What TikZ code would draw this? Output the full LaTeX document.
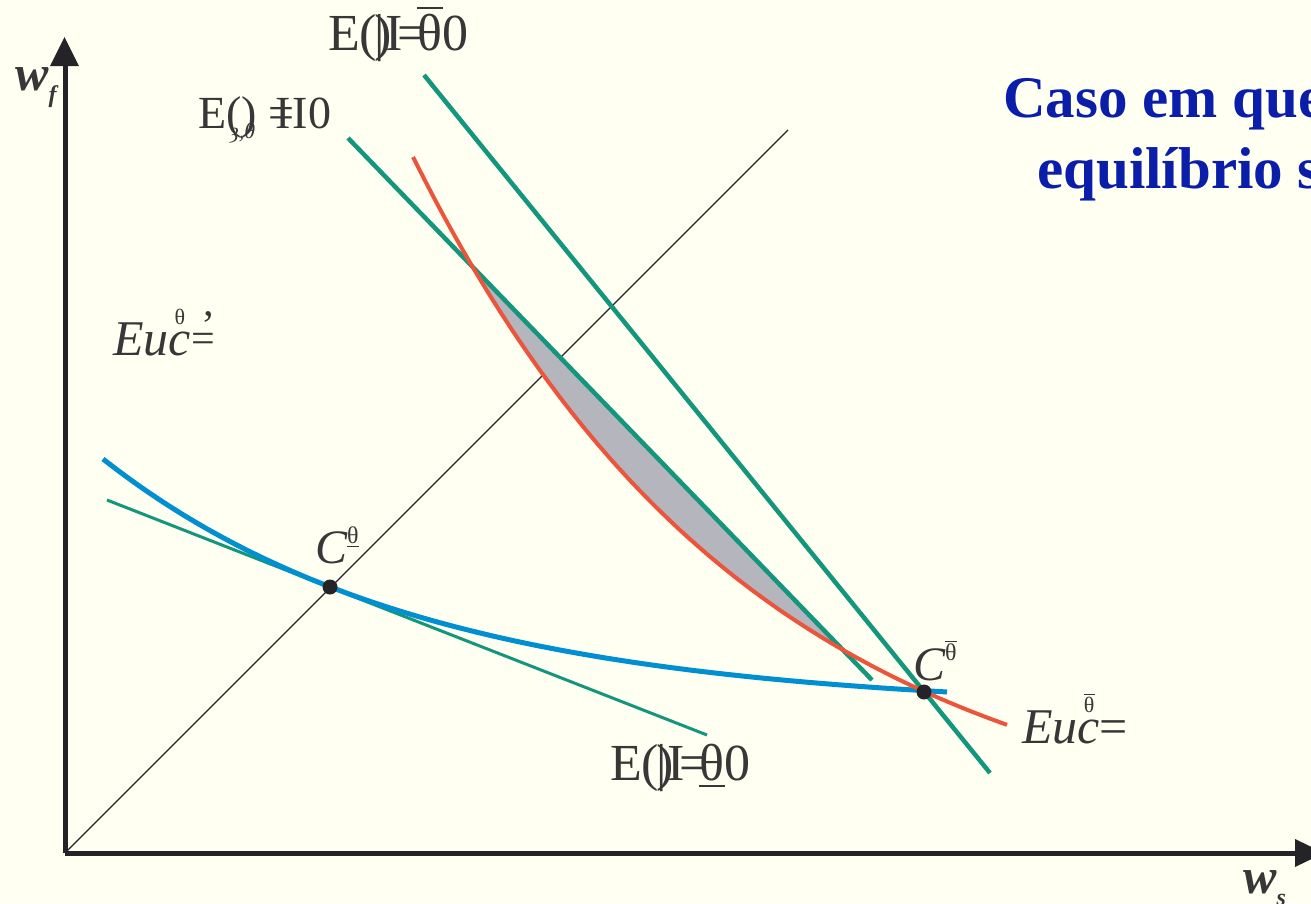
\documentclass[tikz,border=0pt]{standalone}
\usepackage{fontspec}
\setmainfont{Liberation Serif}
\definecolor{bgc}{RGB}{255,255,242}
\definecolor{tealc}{RGB}{20,150,125}
\definecolor{bluec}{RGB}{0,144,210}
\definecolor{redc}{RGB}{236,84,60}
\definecolor{grayc}{RGB}{180,181,189}
\definecolor{txtc}{RGB}{55,55,55}
\definecolor{titlec}{RGB}{10,30,170}
\definecolor{axisc}{RGB}{35,35,40}
\newcommand\ovbar[1]{\rlap{\raisebox{0.78em}{\rule{0.5em}{0.05em}}}#1}
\newcommand\unbar[1]{\rlap{\raisebox{-0.14em}{\rule{0.5em}{0.05em}}}#1}
\begin{document}
\begin{tikzpicture}[x=1pt,y=-1pt,
  lbl/.style={anchor=base west,inner sep=0pt,text=txtc,font=\fontsize{46}{50}\selectfont},
  big/.style={anchor=base west,inner sep=0pt,text=txtc,font=\fontsize{52}{56}\selectfont},
  small/.style={anchor=base west,inner sep=0pt,text=txtc,font=\fontsize{24}{26}\selectfont},
  ttl/.style={anchor=base west,inner sep=0pt,text=titlec,font=\fontsize{59}{62}\selectfont\bfseries},
  axisline/.style={line width=5pt,axisc},
  thickgreen/.style={line width=4.5pt,tealc},
  thingreen/.style={line width=3pt,tealc},
  dot/.style={circle,fill=axisc,inner sep=0pt,minimum size=15pt}]
\fill[bgc] (0,0) rectangle (1311,903);
\useasboundingbox (0,0) rectangle (1311,903);
\begin{scope}
\clip (0,0) rectangle (1311,903);
% axes
\coordinate (O) at (65,853);
\coordinate (Ytop) at (65,60);
\coordinate (Xend) at (1300,853);
\coordinate (D) at (788,130);
\draw[axisline] (O) -- (Ytop);
\draw[axisline] (O) -- (Xend);
\fill[axisc] (50,66) -- (64.5,37) -- (79,66) -- cycle;
\fill[axisc] (1295,839) -- (1324,853) -- (1295,867) -- cycle;
\draw[line width=1.3pt,axisc] (O) -- (D);
% shaded region between red curve and green tangent line
\fill[grayc] plot[domain=470:842,samples=80] (\x,{157+690*(1-exp(-0.00292*(\x-413)))}) -- cycle;
% green lines
\coordinate (G1a) at (424,75);
\coordinate (G1b) at (990,773);
\coordinate (G2a) at (348,138);
\coordinate (G2b) at (872,680);
\coordinate (G3a) at (107,500);
\coordinate (G3b) at (707,735);
\draw[thickgreen] (G1a) -- (G1b);
\draw[thickgreen] (G2a) -- (G2b);
\draw[thingreen] (G3a) -- (G3b);
% blue curve
\draw[line width=5pt,bluec] plot[domain=103:947,samples=120] (\x,{709.6-250.6*exp(-0.00315*(\x-103))});
% red curve
\draw[line width=4pt,redc] plot[domain=413:1007,samples=120] (\x,{157+690*(1-exp(-0.00292*(\x-413)))});
% points
\node[dot] (C1) at (330,587) {};
\node[dot] (C2) at (924,692) {};
% labels
\node[big] (L1) at (328,50) {E(\kern-0.06em\rlap{|})\kern-0.12em I\kern-0.1em\rlap{=}\kern0.38em\ovbar{θ}0};
\node[lbl] (L2) at (198,128) {E()\kern0.25em\rlap{=}\kern0.15em I\kern0.05em I0};
\node[small,font=\fontsize{22}{24}\selectfont\itshape] (L2s) at (230,138) {ȝ,θ};
\node[lbl,font=\fontsize{50}{54}\selectfont\itshape] (L3) at (113,355) {Eu\rlap{\kern0.12em\raisebox{0.62em}{\upshape\fontsize{22}{24}\selectfont θ}}c\kern0.02em\raisebox{0.05em}{\upshape\fontsize{42}{44}\selectfont\rlap{\kern0.22em\raisebox{0.32em}{’}}=}};
\node[big] (L4) at (610,780) {E(\kern-0.06em\rlap{|})\kern-0.12em I\kern-0.1em\rlap{=}\kern0.38em\unbar{θ}0};
\node[lbl,font=\fontsize{50}{54}\selectfont\itshape] (L5) at (1022,743) {Eu\rlap{\kern0.12em\raisebox{0.62em}{\upshape\fontsize{22}{24}\selectfont\ovbar{θ}}}c\upshape=};
\node[lbl,font=\fontsize{48}{50}\selectfont\itshape] (LC1) at (315,563) {C\raisebox{0.4em}{\upshape\fontsize{24}{26}\selectfont\unbar{θ}}};
\node[lbl,font=\fontsize{48}{50}\selectfont\itshape] (LC2) at (913,680) {C\raisebox{0.4em}{\upshape\fontsize{24}{26}\selectfont\ovbar{θ}}};
\node[lbl,font=\fontsize{50}{52}\selectfont\itshape\bfseries] (WF) at (15,90) {w\raisebox{-0.25em}{\fontsize{24}{26}\selectfont f}};
\node[lbl,font=\fontsize{50}{52}\selectfont\itshape\bfseries] (WS) at (1243,893) {w\raisebox{-0.25em}{\fontsize{24}{26}\selectfont s}};
\node[ttl] (T1) at (1003,117) {Caso em que};
\node[ttl] (T2) at (1037,188) {equilíbrio s};
\end{scope}
\end{tikzpicture}
\end{document}
